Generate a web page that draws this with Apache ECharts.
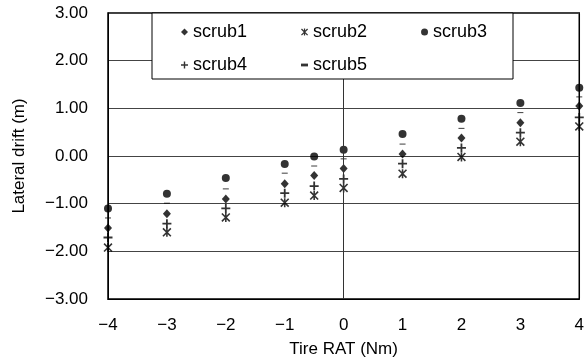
<!DOCTYPE html>
<html>
<head>
<meta charset="utf-8">
<script src="https://cdn.jsdelivr.net/npm/echarts@6/dist/echarts.min.js"></script>
<style>
  html, body { margin: 0; padding: 0; background: #fff; }
  #main { width: 587px; height: 363px; }
</style>
</head>
<body>
<div id="main"></div>
<script>
// tire RAT values (Nm)
var rat = [-4, -3, -2, -1, -0.5, 0, 1, 2, 3, 4];

// lateral drift (m) per scrub
var scrub1 = [-1.51, -1.21, -0.90, -0.58, -0.41, -0.26, 0.04, 0.38, 0.70, 1.05];
var scrub2 = [-1.92, -1.60, -1.29, -0.98, -0.83, -0.67, -0.37, -0.02, 0.30, 0.62];
var scrub3 = [-1.10, -0.79, -0.46, -0.17, -0.01, 0.13, 0.46, 0.78, 1.11, 1.43];
var scrub4 = [-1.71, -1.42, -1.10, -0.78, -0.63, -0.48, -0.16, 0.17, 0.49, 0.81];
var scrub5 = [-1.30, -0.99, -0.69, -0.36, -0.21, -0.06, 0.25, 0.58, 0.91, 1.24];

var FONT = 'Liberation Sans';

function pairs(ys) {
    var out = [];
    for (var i = 0; i < rat.length; i++) {
        out.push([rat[i], ys[i]]);
    }
    return out;
}

function fmtNeg(s) {
    return String(s).replace('-', '\u2212');
}

var starPath = 'path://M0,1L1,0L8,7L7,8ZM7,0L8,1L1,8L0,7ZM3.3,0H4.7V8H3.3Z';
var plusPath = 'path://M3.2,0H4.8V3.2H8V4.8H4.8V8H3.2V4.8H0V3.2H3.2Z';
var dashPath = 'path://M0,0H5V2H0Z';

function mk(name, data, symbol, size) {
    return {
        name: name,
        type: 'scatter',
        data: pairs(data),
        symbol: symbol,
        symbolSize: size,
        symbolKeepAspect: true,
        itemStyle: {color: '#000'},
        silent: true
    };
}

var series = [
    mk('scrub1', scrub1, 'diamond', [8, 9]),
    mk('scrub2', scrub2, starPath, 9),
    mk('scrub3', scrub3, 'circle', 8),
    mk('scrub4', scrub4, plusPath, 9),
    mk('scrub5', scrub5, dashPath, [6, 2.4])
];
series[0].markLine = {
    silent: true,
    symbol: 'none',
    label: {show: false},
    lineStyle: {color: '#333', type: 'solid', width: 1},
    data: [{xAxis: 0}]
};

var legendCommon = {
    orient: 'horizontal',
    padding: 0,
    itemWidth: 7,
    itemHeight: 7,
    itemGap: 54,
    z: 20,
    selectedMode: false,
    textStyle: {fontFamily: FONT, fontSize: 18, color: '#000', lineHeight: 20}
};

var myChart = echarts.init(document.getElementById('main'));
var option = {
    animation: false,
    backgroundColor: '#fff',
    grid: {
        left: 108, right: 6, top: 13, bottom: 62,
        show: true, borderColor: '#000', borderWidth: 1.5
    },
    legend: [
        Object.assign({left: 181, top: 22, data: ['scrub1', 'scrub2', 'scrub3']}, legendCommon),
        Object.assign({left: 181, top: 55, data: ['scrub4', 'scrub5']}, legendCommon)
    ],
    graphic: [{
        type: 'rect',
        z: 10,
        shape: {x: 152, y: 13, width: 361, height: 66},
        style: {fill: '#fff', stroke: '#000', lineWidth: 1}
    }],
    xAxis: {
        type: 'value',
        min: -4, max: 4, interval: 1,
        name: 'Tire RAT (Nm)',
        nameLocation: 'middle',
        nameGap: 42,
        nameTextStyle: {fontFamily: FONT, fontSize: 17, color: '#000'},
        axisLine: {onZero: false, lineStyle: {color: '#000'}},
        axisTick: {show: false},
        splitLine: {show: false},
        axisLabel: {
            margin: 18,
            fontFamily: FONT, fontSize: 17, color: '#000',
            formatter: function (v) { return fmtNeg(v); }
        }
    },
    yAxis: {
        type: 'value',
        min: -3, max: 3, interval: 1,
        name: 'Lateral drift (m)',
        nameLocation: 'middle',
        nameGap: 80,
        nameTextStyle: {fontFamily: FONT, fontSize: 17, color: '#000'},
        axisLine: {onZero: false, lineStyle: {color: '#000'}},
        axisTick: {show: false},
        splitLine: {show: true, lineStyle: {color: '#444', width: 1}},
        axisLabel: {
            margin: 20,
            fontFamily: FONT, fontSize: 17, color: '#000',
            formatter: function (v) { return fmtNeg(v.toFixed(2)); }
        }
    },
    series: series
};

myChart.setOption(option);
</script>
</body>
</html>
